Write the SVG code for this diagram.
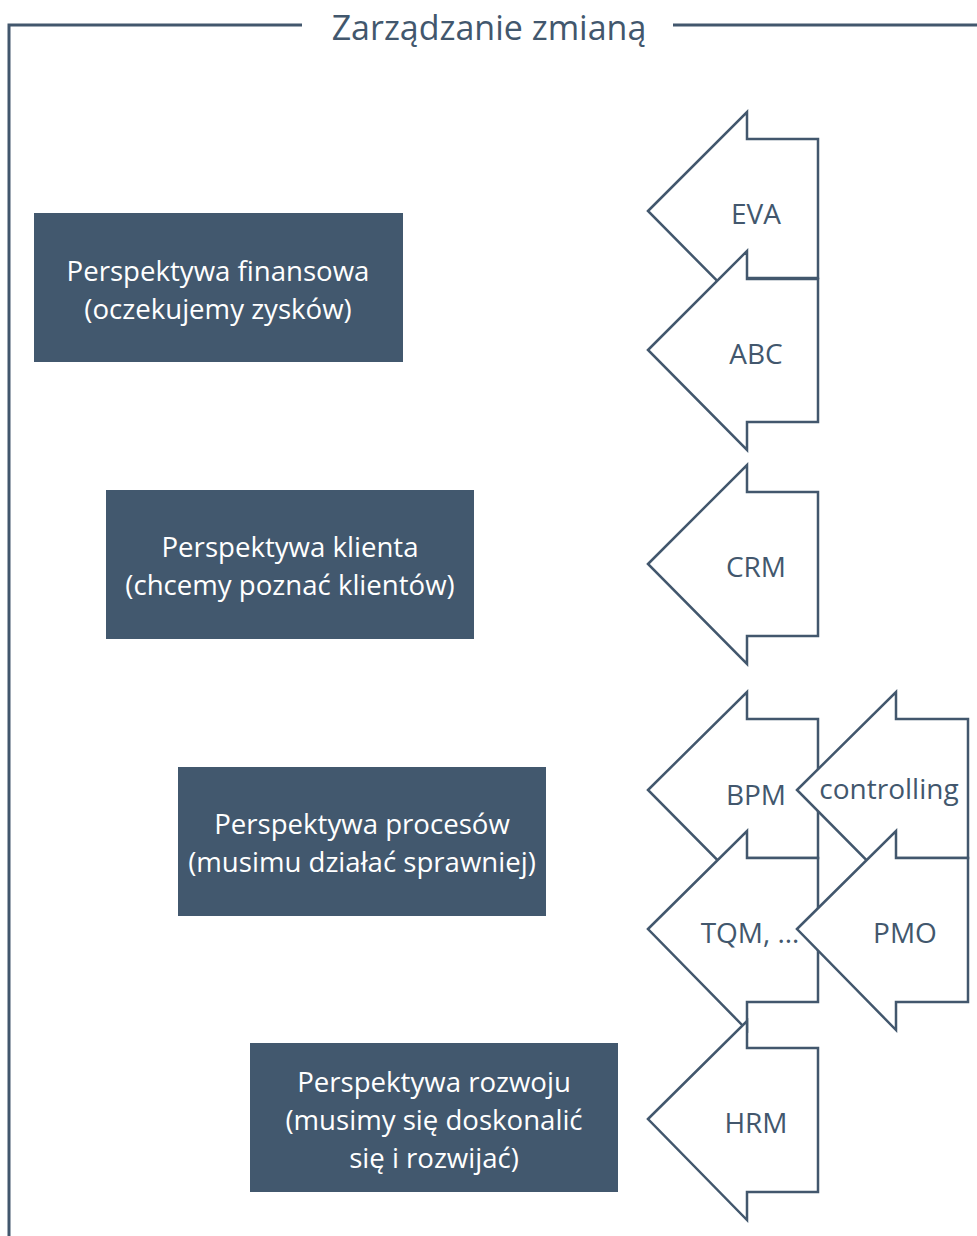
<svg xmlns="http://www.w3.org/2000/svg" width="977" height="1236" viewBox="0 0 977 1236">
<style>
.frame{fill:none;stroke:#42576d;stroke-width:3}
.title{font-family:"Open Sans","Noto Sans",sans-serif;font-size:34px;fill:#42576d;text-anchor:middle}
.box{fill:#42586e}
.bt{font-family:"Open Sans","Noto Sans",sans-serif;font-size:27.6px;fill:#ffffff;text-anchor:middle}
.arrow{fill:#ffffff;stroke:#42576d;stroke-width:2.5;stroke-linejoin:miter}
.at{font-family:"Open Sans","Noto Sans",sans-serif;font-size:28px;fill:#42576d;text-anchor:middle}
</style>
<g id="frame">
<path class="frame" d="M302 25 H9 V1236"/>
<path class="frame" d="M673 25 H977"/>
<text class="title" x="489" y="40">Zarządzanie zmianą</text>
</g>
<g id="box-finansowa">
<rect class="box" x="34" y="213" width="369" height="149"/>
<text class="bt" x="218" y="281">Perspektywa finansowa</text>
<text class="bt" x="218" y="319">(oczekujemy zysków)</text>
</g>
<g id="box-klienta">
<rect class="box" x="106" y="490" width="368" height="149"/>
<text class="bt" x="290" y="557">Perspektywa klienta</text>
<text class="bt" x="290" y="595">(chcemy poznać klientów)</text>
</g>
<g id="box-procesow">
<rect class="box" x="178" y="767" width="368" height="149"/>
<text class="bt" x="362" y="834">Perspektywa procesów</text>
<text class="bt" x="362" y="872">(musimu działać sprawniej)</text>
</g>
<g id="box-rozwoju">
<rect class="box" x="250" y="1043" width="368" height="149"/>
<text class="bt" x="434" y="1092">Perspektywa rozwoju</text>
<text class="bt" x="434" y="1130">(musimy się doskonalić</text>
<text class="bt" x="434" y="1168">się i rozwijać)</text>
</g>
<g id="arrow-eva">
<path class="arrow" d="M648 211 L747 112 V139 H818 V278 H747 V311 Z"/>
<text class="at" x="756" y="224">EVA</text>
</g>
<g id="arrow-abc">
<path class="arrow" d="M648 350 L747 251 V279 H818 V422 H747 V450 Z"/>
<text class="at" x="756" y="364">ABC</text>
</g>
<g id="arrow-crm">
<path class="arrow" d="M648 564 L747 465 V492 H818 V636 H747 V664 Z"/>
<text class="at" x="756" y="577">CRM</text>
</g>
<g id="arrow-bpm">
<path class="arrow" d="M648 790 L747 692 V719 H818 V858 H747 V890 Z"/>
<text class="at" x="756" y="805">BPM</text>
</g>
<g id="arrow-controlling">
<path class="arrow" d="M797 790 L896 692 V719 H968 V858 H896 V890 Z"/>
<text class="at" x="889" y="799">controlling</text>
</g>
<g id="arrow-tqm">
<path class="arrow" d="M648 929 L747 831 V858 H818 V1002 H747 V1030 Z"/>
<text class="at" x="750" y="943">TQM, …</text>
</g>
<g id="arrow-pmo">
<path class="arrow" d="M797 929 L896 831 V858 H968 V1002 H896 V1030 Z"/>
<text class="at" x="905" y="943">PMO</text>
</g>
<g id="arrow-hrm">
<path class="arrow" d="M648 1119 L747 1021 V1048 H818 V1192 H747 V1220 Z"/>
<text class="at" x="756" y="1133">HRM</text>
</g>
</svg>
